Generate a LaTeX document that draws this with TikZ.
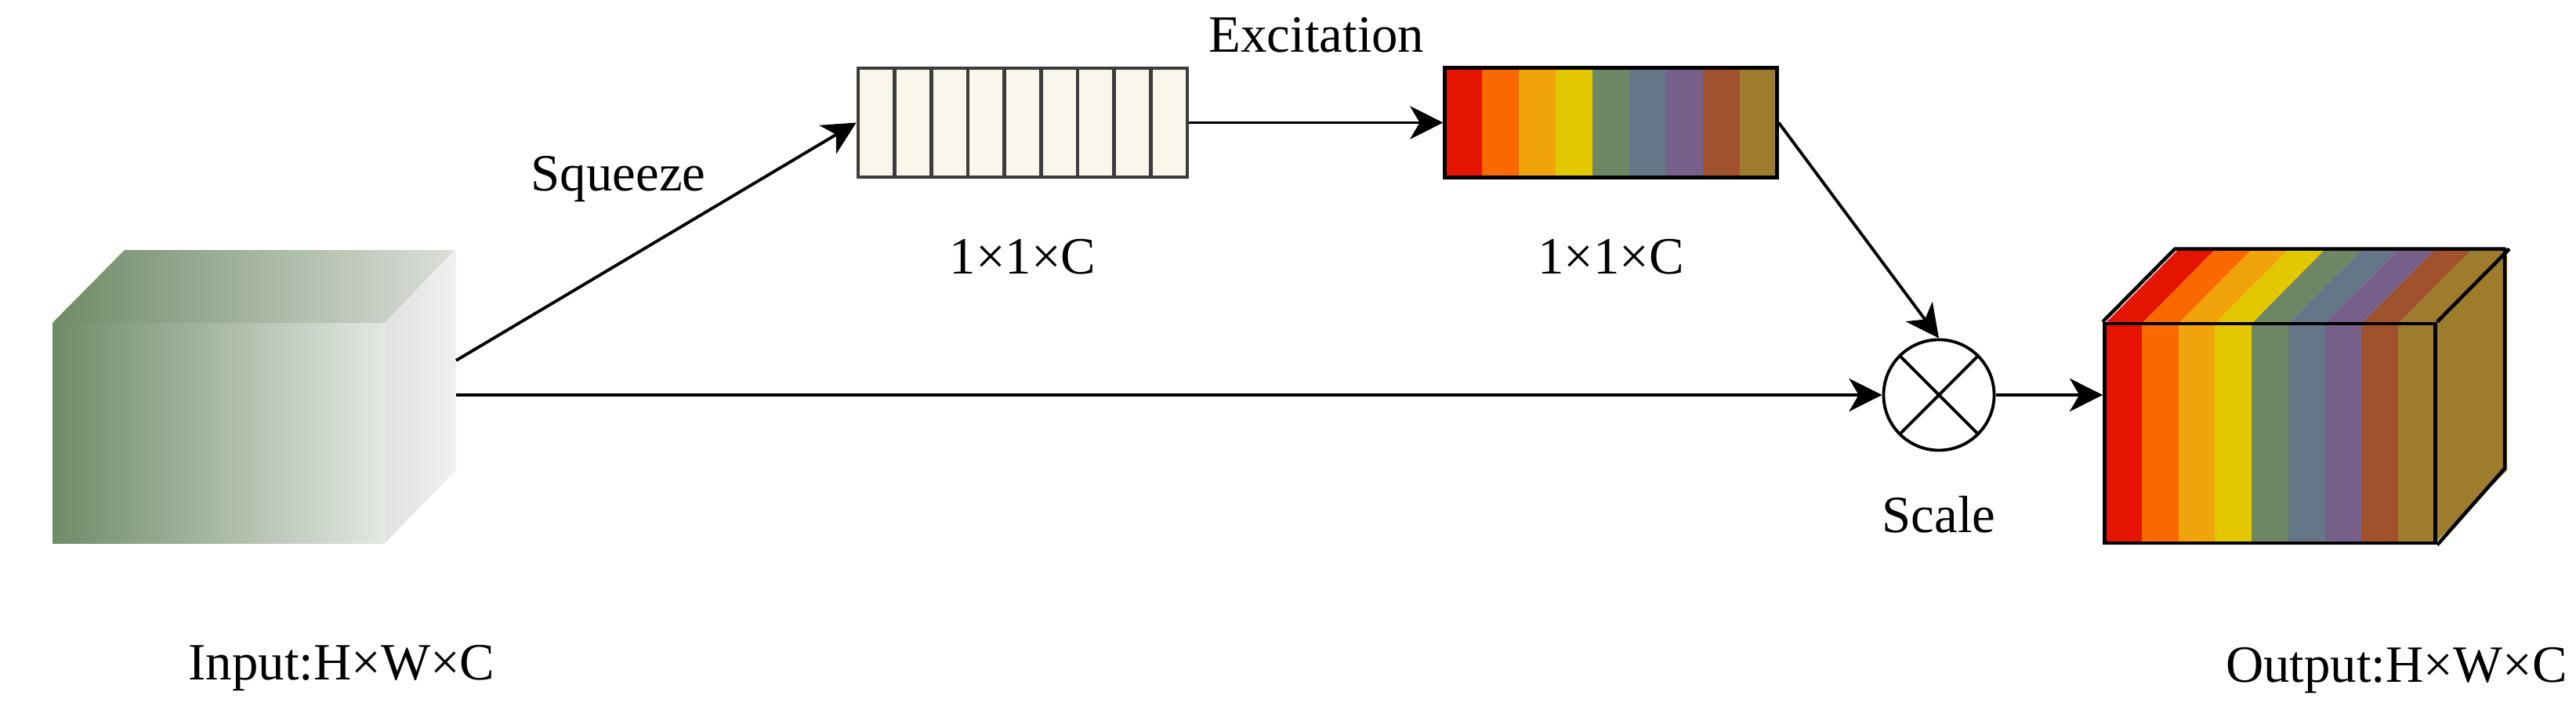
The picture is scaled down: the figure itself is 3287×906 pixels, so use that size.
\documentclass[tikz,border=0pt]{standalone}
\usepackage{fontspec}
\setmainfont{Liberation Serif}
\usetikzlibrary{arrows.meta,positioning}

\definecolor{inGreen}{HTML}{6E8B67}
\definecolor{inFrontL}{HTML}{E3E8E2}
\definecolor{inTopL}{HTML}{DCDEDA}
\definecolor{inSideA}{HTML}{DFE2DE}
\definecolor{inSideB}{HTML}{F0F0F0}
\definecolor{cream}{HTML}{F9F6EC}
\definecolor{cellGray}{HTML}{3C3C3C}
\definecolor{cR}{HTML}{E51400}
\definecolor{cO}{HTML}{FA6800}
\definecolor{cA}{HTML}{F0A30A}
\definecolor{cY}{HTML}{E3C800}
\definecolor{cG}{HTML}{6D8764}
\definecolor{cS}{HTML}{647687}
\definecolor{cM}{HTML}{76608A}
\definecolor{cB}{HTML}{A0522D}
\definecolor{cK}{HTML}{9E7C2E}

\begin{document}
\begin{tikzpicture}[x=0.01cm,y=-0.01cm,font=\fontsize{19}{23}\selectfont,
    arr/.style={-{Stealth[length=12pt,width=12pt,inset=3.5pt]},line width=1.1pt},
    lbl/.style={inner sep=0pt},
    sqbox/.style={draw=cellGray,fill=cream,line width=1.3pt,inner sep=0,minimum width=4.2cm,minimum height=1.39cm},
    exbox/.style={draw,line width=1.4pt,inner sep=0,minimum width=4.23cm,minimum height=1.39cm},
    cubeface/.style={inner sep=0,minimum width=4.22cm,minimum height=2.8cm},
    edgeline/.style={line width=1.3pt,line join=round}]
\useasboundingbox (0,0) rectangle (3287,906);

\node[cubeface,left color=inGreen,right color=inFrontL] (in_f) at (278.5,553) {};
\shade[left color=inGreen,right color=inTopL] (in_f.north west) -- ++(92,-93) -- ++(422,0) -- (in_f.north east) -- cycle;
\shade[left color=inSideA,right color=inSideB] (in_f.north east) -- ++(92,-93) -- ++(0,280) -- (in_f.south east) -- cycle;

\node[sqbox] (sq_box) at (1305,156.5) {};
\foreach \i in {1,...,8}
    \draw[cellGray,line width=1.3pt] (1095+\i*46.667,87) -- ++(0,139);

\foreach \c [count=\i from 0] in {cR,cO,cA,cY,cG,cS,cM,cB,cK}
    \fill[\c] (1844+\i*47,87) rectangle ++(47,139);
\node[exbox] (ex_box) at (2055.5,156.5) {};

\foreach \c [count=\i from 0] in {cR,cO,cA,cY,cG,cS,cM,cB,cK} {
    \fill[\c] (2686+\i*46.78,413) rectangle ++(46.78,280);
    \fill[\c] (2686+\i*46.78,413) -- ++(92,-93) -- ++(46.78,0) -- ++(-92,93) -- cycle;
}
\fill[cK] (3107,413) -- ++(92,-93) -- ++(0,280) -- ++(-92,93) -- cycle;
\node[cubeface,draw,line width=1.3pt] (out_f) at (2896.5,553) {};
\draw[edgeline] (out_f.north west) -- ++(92,-93) -- ++(421,0) -- ++(0,280) -- (out_f.south east)
    (out_f.north east) -- ++(92,-93);

\node[draw,circle,line width=1.1pt,inner sep=0,minimum size=1.41cm] (sc) at (2474,504) {};
\draw[line width=1.1pt] (sc.45) -- (sc.225) (sc.135) -- (sc.315);

\coordinate (sq_in) at (582,460);
\coordinate (mid_in) at (582,504);
\draw[arr] (sq_in) -- (sq_box.west);
\draw[arr] (mid_in) -- (sc.west);
\draw[arr] (sq_box.east) -- (ex_box.west);
\draw[arr] (ex_box.east) -- (sc.north);
\draw[arr] (sc.east) -- (sc.east -| out_f.west);

\node[lbl,anchor=base] (sq_lbl) at (789,243) {Squeeze};
\node[lbl,anchor=base] (ex_lbl) at (1680,67) {Excitation};
\node[lbl,below=0.76cm of sq_box] (sq_dim) {1×1×C};
\node[lbl,below=0.76cm of ex_box] (ex_dim) {1×1×C};
\node[lbl,below=0.56cm of sc] (sc_lbl) {Scale};
\node[lbl,anchor=base] (in_lbl) at (436,867) {Input:H×W×C};
\node[lbl,anchor=base] (out_lbl) at (3058,870) {Output:H×W×C};
\end{tikzpicture}
\end{document}
